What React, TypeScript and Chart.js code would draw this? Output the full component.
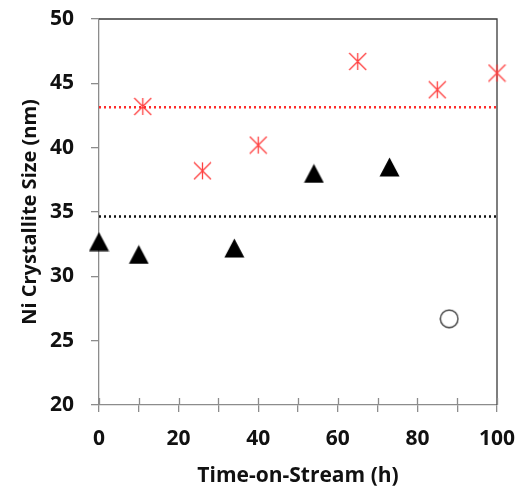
import { useEffect, useRef } from 'react';
import { Chart, registerables } from 'chart.js';
Chart.register(...registerables);

const redTimes = [11, 26, 40, 65, 85, 100];
const redSizes = [43.2, 38.2, 40.2, 46.7, 44.5, 45.8];
const blackTimes = [0, 10, 34, 54, 73];
const blackSizes = [32.7, 31.7, 32.2, 38.0, 38.5];
const openTimes = [88];
const openSizes = [26.7];
const redAverage = 43.15;
const blackAverage = 34.65;
const xLimits = [0, 100];
const yLimits = [20, 50];
const xTitle = 'Time-on-Stream (h)';
const yTitle = 'Ni Crystallite Size (nm)';

function makeAsterisk(size: number, color: string) {
  const c = document.createElement('canvas');
  c.width = size; c.height = size;
  const g = c.getContext('2d')!;
  g.strokeStyle = color; g.lineWidth = 1.3;
  const m = size / 2, h = size / 2 - 1;
  g.beginPath();
  g.moveTo(m, m - h); g.lineTo(m, m + h);
  g.moveTo(m - h, m - h); g.lineTo(m + h, m + h);
  g.moveTo(m + h, m - h); g.lineTo(m - h, m + h);
  g.stroke();
  return c;
}
function makeTriangle(w: number, h: number) {
  const c = document.createElement('canvas');
  c.width = w; c.height = h;
  const g = c.getContext('2d')!;
  g.fillStyle = '#000';
  g.beginPath();
  g.moveTo(w / 2, 0.5); g.lineTo(w - 0.5, h - 0.5); g.lineTo(0.5, h - 0.5);
  g.closePath(); g.fill();
  return c;
}
function makeCircle(size: number) {
  const c = document.createElement('canvas');
  c.width = size; c.height = size;
  const g = c.getContext('2d')!;
  g.strokeStyle = '#404040'; g.lineWidth = 1.4;
  g.beginPath(); g.arc(size / 2, size / 2, size / 2 - 1.2, 0, Math.PI * 2); g.stroke();
  return c;
}

const frame = {
  id: 'frame',
  beforeDatasetsDraw(chart: any) {
    const { ctx, chartArea } = chart;
    const xs = chart.scales.x;
    ctx.save();
    ctx.strokeStyle = '#3a3a3a'; ctx.lineWidth = 1.3;
    ctx.beginPath();
    ctx.moveTo(chartArea.left, chartArea.top);
    ctx.lineTo(chartArea.right, chartArea.top);
    ctx.lineTo(chartArea.right, chartArea.bottom);
    ctx.stroke();
    ctx.strokeStyle = '#8c8c8c'; ctx.lineWidth = 1.3;
    ctx.beginPath();
    xs.ticks.forEach((t: any) => {
      const px = Math.round(xs.getPixelForValue(t.value)) + 0.5;
      ctx.moveTo(px, chartArea.bottom);
      ctx.lineTo(px, chartArea.bottom - 7);
    });
    ctx.stroke();
    ctx.restore();
  },
};

export default function App() {
  const ref = useRef<HTMLCanvasElement>(null);
  useEffect(() => {
    document.body.style.margin = '0';
    const tickFont = { family: 'Open Sans', weight: 'bold' as const, size: 21 };
    const xTitleFont = { family: 'Open Sans', weight: 'bold' as const, size: 21 };
    const yTitleFont = { family: 'Open Sans', weight: 'bold' as const, size: 20 };
    const chart = new Chart(ref.current!, {
      type: 'scatter',
      data: {
        datasets: [
          {
            data: xLimits.map((x) => ({ x, y: redAverage })),
            showLine: true, borderColor: '#ff2a2a', borderWidth: 2.5, borderDash: [2, 3],
            pointRadius: 0,
          },
          {
            data: xLimits.map((x) => ({ x, y: blackAverage })),
            showLine: true, borderColor: '#111', borderWidth: 2.5, borderDash: [2, 3],
            pointRadius: 0,
          },
          {
            data: redTimes.map((x, i) => ({ x, y: redSizes[i] })),
            pointStyle: makeAsterisk(19, '#ff4040') as any,
            clip: false as any,
          },
          {
            data: blackTimes.map((x, i) => ({ x, y: blackSizes[i] })),
            pointStyle: makeTriangle(21, 20) as any,
            clip: false as any,
          },
          {
            data: openTimes.map((x, i) => ({ x, y: openSizes[i] })),
            pointStyle: makeCircle(20) as any,
            clip: false as any,
          },
        ],
      },
      options: {
        animation: false,
        responsive: false,
        devicePixelRatio: 1,
        layout: { padding: { top: 19, right: 22, left: 0, bottom: 0 } },
        plugins: { legend: { display: false }, tooltip: { enabled: false } },
        scales: {
          x: {
            type: 'linear', min: xLimits[0], max: xLimits[1],
            afterFit: (s: any) => { s.height = 84; s.paddingLeft = 0; s.paddingRight = 0; },
            border: { color: '#8c8c8c', width: 1.3 },
            grid: { drawOnChartArea: false, tickLength: 7, color: '#8c8c8c', lineWidth: 1.3 },
            ticks: {
              stepSize: 10, font: tickFont, color: '#111', padding: 14, maxRotation: 0, autoSkip: false,
              callback: (v: any) => (Number(v) % 20 === 0 ? String(v) : ''),
            },
            title: { display: true, text: xTitle, font: xTitleFont, color: '#111', padding: { top: 0, bottom: 0 } },
          },
          y: {
            type: 'linear', min: yLimits[0], max: yLimits[1],
            afterFit: (s: any) => { s.width = 99; s.paddingTop = 0; s.paddingBottom = 0; },
            border: { color: '#8c8c8c', width: 1.3 },
            grid: { drawOnChartArea: false, tickLength: 8, color: '#8c8c8c', lineWidth: 1.3 },
            ticks: { stepSize: 5, font: tickFont, color: '#111', padding: 17 },
            title: { display: true, text: yTitle, font: yTitleFont, color: '#111', padding: { top: 18, bottom: 0 } },
          },
        },
      },
      plugins: [frame],
    });
    return () => chart.destroy();
  }, []);
  return <canvas ref={ref} width={519} height={489} style={{ display: 'block' }} />;
}
